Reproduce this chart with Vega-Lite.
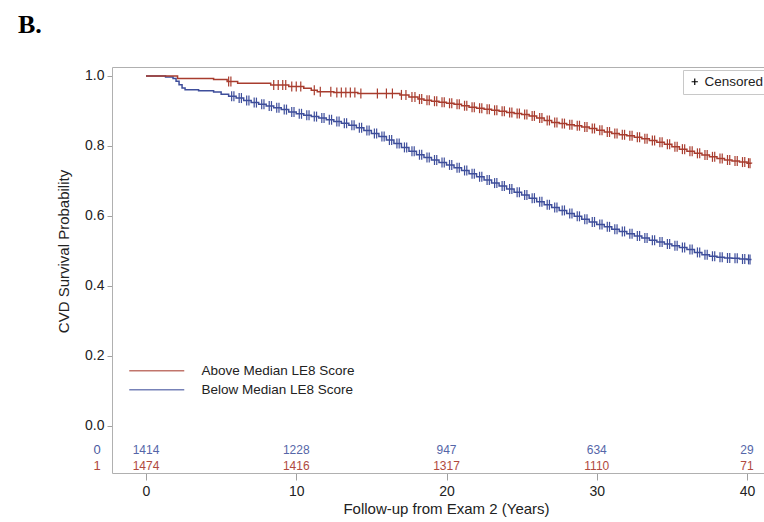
{
  "$schema": "https://vega.github.io/schema/vega-lite/v6.json",
  "width": 652,
  "height": 406,
  "autosize": "none",
  "padding": {"left": 112, "top": 67, "right": 0, "bottom": 49},
  "background": "white",
  "title": {"text": "B.", "anchor": "start", "frame": "group", "font": "Liberation Serif", "fontSize": 26, "fontWeight": "bold", "color": "#000", "dx": -94, "offset": 8, "baseline": "alphabetic"},
  "config": {
    "view": {"stroke": null},
    "font": "Liberation Sans",
    "axis": {"domainColor": "#b0b0b0", "tickColor": "#a0a0a0", "labelColor": "#222", "titleColor": "#222", "labelFont": "Liberation Sans", "titleFont": "Liberation Sans", "titleFontWeight": "normal", "grid": false}
  },
  "datasets": {
    "km": [
      {"g":"B","t":0,"s":1},{"g":"B","t":1.3,"s":0.997},{"g":"B","t":1.8,"s":0.993},{"g":"B","t":2.0,"s":0.985},{"g":"B","t":2.2,"s":0.975},{"g":"B","t":2.4,"s":0.966},{"g":"B","t":2.6,"s":0.961},{"g":"B","t":3.5,"s":0.958},{"g":"B","t":4.5,"s":0.954},{"g":"B","t":5.0,"s":0.948},
      {"g":"B","t":5.5,"s":0.942},{"g":"B","t":6.0,"s":0.937},{"g":"B","t":6.5,"s":0.930},{"g":"B","t":7.0,"s":0.924},{"g":"B","t":7.5,"s":0.919},{"g":"B","t":8.0,"s":0.914},{"g":"B","t":8.5,"s":0.909},{"g":"B","t":9.0,"s":0.904},{"g":"B","t":9.5,"s":0.897},{"g":"B","t":10.0,"s":0.892},
      {"g":"B","t":10.5,"s":0.888},{"g":"B","t":11.0,"s":0.884},{"g":"B","t":11.5,"s":0.880},{"g":"B","t":12.0,"s":0.875},{"g":"B","t":12.5,"s":0.870},{"g":"B","t":13.0,"s":0.865},{"g":"B","t":13.5,"s":0.859},{"g":"B","t":14.0,"s":0.852},{"g":"B","t":14.5,"s":0.844},{"g":"B","t":15.0,"s":0.836},
      {"g":"B","t":15.5,"s":0.827},{"g":"B","t":16.0,"s":0.817},{"g":"B","t":16.5,"s":0.807},{"g":"B","t":17.0,"s":0.796},{"g":"B","t":17.5,"s":0.785},{"g":"B","t":18.0,"s":0.775},{"g":"B","t":18.5,"s":0.767},{"g":"B","t":19.0,"s":0.760},{"g":"B","t":19.5,"s":0.753},{"g":"B","t":20.0,"s":0.746},
      {"g":"B","t":20.5,"s":0.738},{"g":"B","t":21.0,"s":0.730},{"g":"B","t":21.5,"s":0.721},{"g":"B","t":22.0,"s":0.712},{"g":"B","t":22.5,"s":0.703},{"g":"B","t":23.0,"s":0.694},{"g":"B","t":23.5,"s":0.686},{"g":"B","t":24.0,"s":0.677},{"g":"B","t":24.5,"s":0.668},{"g":"B","t":25.0,"s":0.660},
      {"g":"B","t":25.5,"s":0.651},{"g":"B","t":26.0,"s":0.641},{"g":"B","t":26.5,"s":0.632},{"g":"B","t":27.0,"s":0.624},{"g":"B","t":27.5,"s":0.616},{"g":"B","t":28.0,"s":0.607},{"g":"B","t":28.5,"s":0.599},{"g":"B","t":29.0,"s":0.591},{"g":"B","t":29.5,"s":0.583},{"g":"B","t":30.0,"s":0.576},
      {"g":"B","t":30.5,"s":0.569},{"g":"B","t":31.0,"s":0.562},{"g":"B","t":31.5,"s":0.556},{"g":"B","t":32.0,"s":0.549},{"g":"B","t":32.5,"s":0.543},{"g":"B","t":33.0,"s":0.537},{"g":"B","t":33.5,"s":0.531},{"g":"B","t":34.0,"s":0.526},{"g":"B","t":34.5,"s":0.520},{"g":"B","t":35.0,"s":0.515},
      {"g":"B","t":35.5,"s":0.510},{"g":"B","t":36.0,"s":0.504},{"g":"B","t":36.5,"s":0.496},{"g":"B","t":37.0,"s":0.489},{"g":"B","t":37.5,"s":0.485},{"g":"B","t":38.0,"s":0.482},{"g":"B","t":38.5,"s":0.480},{"g":"B","t":39.0,"s":0.479},{"g":"B","t":39.5,"s":0.477},{"g":"B","t":40.0,"s":0.476},{"g":"B","t":40.3,"s":0.476},
      {"g":"A","t":0,"s":1},{"g":"A","t":2.1,"s":0.993},{"g":"A","t":4.5,"s":0.990},{"g":"A","t":5.4,"s":0.984},{"g":"A","t":6.1,"s":0.979},{"g":"A","t":8.3,"s":0.974},{"g":"A","t":9.5,"s":0.970},{"g":"A","t":10.5,"s":0.965},{"g":"A","t":11.0,"s":0.959},{"g":"A","t":11.4,"s":0.955},
      {"g":"A","t":12.5,"s":0.953},{"g":"A","t":14.1,"s":0.950},{"g":"A","t":16.9,"s":0.946},{"g":"A","t":17.5,"s":0.940},{"g":"A","t":18.1,"s":0.934},{"g":"A","t":18.5,"s":0.931},{"g":"A","t":19.0,"s":0.928},{"g":"A","t":19.5,"s":0.925},{"g":"A","t":20.0,"s":0.922},{"g":"A","t":20.5,"s":0.919},
      {"g":"A","t":21.0,"s":0.915},{"g":"A","t":21.5,"s":0.911},{"g":"A","t":22.0,"s":0.908},{"g":"A","t":22.5,"s":0.905},{"g":"A","t":23.0,"s":0.902},{"g":"A","t":23.5,"s":0.899},{"g":"A","t":24.0,"s":0.896},{"g":"A","t":24.5,"s":0.893},{"g":"A","t":25.0,"s":0.890},{"g":"A","t":25.5,"s":0.886},
      {"g":"A","t":26.0,"s":0.880},{"g":"A","t":26.5,"s":0.873},{"g":"A","t":27.0,"s":0.867},{"g":"A","t":27.5,"s":0.864},{"g":"A","t":28.0,"s":0.861},{"g":"A","t":28.5,"s":0.858},{"g":"A","t":29.0,"s":0.854},{"g":"A","t":29.5,"s":0.850},{"g":"A","t":30.0,"s":0.845},{"g":"A","t":30.5,"s":0.840},
      {"g":"A","t":31.0,"s":0.836},{"g":"A","t":31.5,"s":0.832},{"g":"A","t":32.0,"s":0.829},{"g":"A","t":32.5,"s":0.825},{"g":"A","t":33.0,"s":0.821},{"g":"A","t":33.5,"s":0.816},{"g":"A","t":34.0,"s":0.811},{"g":"A","t":34.5,"s":0.805},{"g":"A","t":35.0,"s":0.798},{"g":"A","t":35.5,"s":0.791},
      {"g":"A","t":36.0,"s":0.785},{"g":"A","t":36.5,"s":0.779},{"g":"A","t":37.0,"s":0.774},{"g":"A","t":37.5,"s":0.769},{"g":"A","t":38.0,"s":0.764},{"g":"A","t":38.5,"s":0.760},{"g":"A","t":39.0,"s":0.757},{"g":"A","t":39.5,"s":0.754},{"g":"A","t":40.0,"s":0.751},{"g":"A","t":40.3,"s":0.750}
    ],
    "cens": [
      {"g":"B","t":5.7,"s":0.942},{"g":"B","t":5.85,"s":0.942},{"g":"B","t":6.2,"s":0.937},{"g":"B","t":6.35,"s":0.937},{"g":"B","t":6.7,"s":0.930},{"g":"B","t":6.85,"s":0.930},{"g":"B","t":7.2,"s":0.924},{"g":"B","t":7.35,"s":0.924},{"g":"B","t":7.7,"s":0.919},{"g":"B","t":7.85,"s":0.919},
      {"g":"B","t":8.2,"s":0.914},{"g":"B","t":8.35,"s":0.914},{"g":"B","t":8.7,"s":0.909},{"g":"B","t":8.85,"s":0.909},{"g":"B","t":9.2,"s":0.904},{"g":"B","t":9.35,"s":0.904},{"g":"B","t":9.7,"s":0.897},{"g":"B","t":9.85,"s":0.897},{"g":"B","t":10.2,"s":0.892},{"g":"B","t":10.35,"s":0.892},
      {"g":"B","t":10.7,"s":0.888},{"g":"B","t":10.85,"s":0.888},{"g":"B","t":11.2,"s":0.884},{"g":"B","t":11.35,"s":0.884},{"g":"B","t":11.7,"s":0.880},{"g":"B","t":11.85,"s":0.880},{"g":"B","t":12.2,"s":0.875},{"g":"B","t":12.35,"s":0.875},{"g":"B","t":12.7,"s":0.870},{"g":"B","t":12.85,"s":0.870},
      {"g":"B","t":13.2,"s":0.865},{"g":"B","t":13.35,"s":0.865},{"g":"B","t":13.7,"s":0.859},{"g":"B","t":13.85,"s":0.859},{"g":"B","t":14.2,"s":0.852},{"g":"B","t":14.35,"s":0.852},{"g":"B","t":14.7,"s":0.844},{"g":"B","t":14.85,"s":0.844},{"g":"B","t":15.2,"s":0.836},{"g":"B","t":15.35,"s":0.836},
      {"g":"B","t":15.7,"s":0.827},{"g":"B","t":15.85,"s":0.827},{"g":"B","t":16.2,"s":0.817},{"g":"B","t":16.35,"s":0.817},{"g":"B","t":16.7,"s":0.807},{"g":"B","t":16.85,"s":0.807},{"g":"B","t":17.2,"s":0.796},{"g":"B","t":17.35,"s":0.796},{"g":"B","t":17.7,"s":0.785},{"g":"B","t":17.85,"s":0.785},
      {"g":"B","t":18.2,"s":0.775},{"g":"B","t":18.35,"s":0.775},{"g":"B","t":18.7,"s":0.767},{"g":"B","t":18.85,"s":0.767},{"g":"B","t":19.2,"s":0.760},{"g":"B","t":19.35,"s":0.760},{"g":"B","t":19.7,"s":0.753},{"g":"B","t":19.85,"s":0.753},{"g":"B","t":20.2,"s":0.746},{"g":"B","t":20.35,"s":0.746},
      {"g":"B","t":20.7,"s":0.738},{"g":"B","t":20.85,"s":0.738},{"g":"B","t":21.2,"s":0.730},{"g":"B","t":21.35,"s":0.730},{"g":"B","t":21.7,"s":0.721},{"g":"B","t":21.85,"s":0.721},{"g":"B","t":22.2,"s":0.712},{"g":"B","t":22.35,"s":0.712},{"g":"B","t":22.7,"s":0.703},{"g":"B","t":22.85,"s":0.703},
      {"g":"B","t":23.2,"s":0.694},{"g":"B","t":23.35,"s":0.694},{"g":"B","t":23.7,"s":0.686},{"g":"B","t":23.85,"s":0.686},{"g":"B","t":24.2,"s":0.677},{"g":"B","t":24.35,"s":0.677},{"g":"B","t":24.7,"s":0.668},{"g":"B","t":24.85,"s":0.668},{"g":"B","t":25.2,"s":0.660},{"g":"B","t":25.35,"s":0.660},
      {"g":"B","t":25.7,"s":0.651},{"g":"B","t":25.85,"s":0.651},{"g":"B","t":26.2,"s":0.641},{"g":"B","t":26.35,"s":0.641},{"g":"B","t":26.7,"s":0.632},{"g":"B","t":26.85,"s":0.632},{"g":"B","t":27.2,"s":0.624},{"g":"B","t":27.35,"s":0.624},{"g":"B","t":27.7,"s":0.616},{"g":"B","t":27.85,"s":0.616},
      {"g":"B","t":28.2,"s":0.607},{"g":"B","t":28.35,"s":0.607},{"g":"B","t":28.7,"s":0.599},{"g":"B","t":28.85,"s":0.599},{"g":"B","t":29.2,"s":0.591},{"g":"B","t":29.35,"s":0.591},{"g":"B","t":29.7,"s":0.583},{"g":"B","t":29.85,"s":0.583},{"g":"B","t":30.2,"s":0.576},{"g":"B","t":30.35,"s":0.576},
      {"g":"B","t":30.7,"s":0.569},{"g":"B","t":30.85,"s":0.569},{"g":"B","t":31.2,"s":0.562},{"g":"B","t":31.35,"s":0.562},{"g":"B","t":31.7,"s":0.556},{"g":"B","t":31.85,"s":0.556},{"g":"B","t":32.2,"s":0.549},{"g":"B","t":32.35,"s":0.549},{"g":"B","t":32.7,"s":0.543},{"g":"B","t":32.85,"s":0.543},
      {"g":"B","t":33.2,"s":0.537},{"g":"B","t":33.35,"s":0.537},{"g":"B","t":33.7,"s":0.531},{"g":"B","t":33.85,"s":0.531},{"g":"B","t":34.2,"s":0.526},{"g":"B","t":34.35,"s":0.526},{"g":"B","t":34.7,"s":0.520},{"g":"B","t":34.85,"s":0.520},{"g":"B","t":35.2,"s":0.515},{"g":"B","t":35.35,"s":0.515},
      {"g":"B","t":35.7,"s":0.510},{"g":"B","t":35.85,"s":0.510},{"g":"B","t":36.2,"s":0.504},{"g":"B","t":36.35,"s":0.504},{"g":"B","t":36.7,"s":0.496},{"g":"B","t":36.85,"s":0.496},{"g":"B","t":37.2,"s":0.489},{"g":"B","t":37.35,"s":0.489},{"g":"B","t":37.7,"s":0.485},{"g":"B","t":37.85,"s":0.485},
      {"g":"B","t":38.2,"s":0.482},{"g":"B","t":38.35,"s":0.482},{"g":"B","t":38.7,"s":0.480},{"g":"B","t":38.85,"s":0.480},{"g":"B","t":39.2,"s":0.479},{"g":"B","t":39.35,"s":0.479},{"g":"B","t":39.7,"s":0.477},{"g":"B","t":39.85,"s":0.477},{"g":"B","t":40.1,"s":0.476},{"g":"B","t":40.2,"s":0.476},
      {"g":"A","t":5.5,"s":0.984},{"g":"A","t":5.65,"s":0.984},{"g":"A","t":8.5,"s":0.974},{"g":"A","t":8.8,"s":0.974},{"g":"A","t":9.1,"s":0.974},{"g":"A","t":9.3,"s":0.974},{"g":"A","t":9.7,"s":0.970},{"g":"A","t":10.0,"s":0.970},{"g":"A","t":10.3,"s":0.970},{"g":"A","t":11.2,"s":0.959},
      {"g":"A","t":11.6,"s":0.955},{"g":"A","t":12.3,"s":0.955},{"g":"A","t":12.7,"s":0.953},{"g":"A","t":13.0,"s":0.953},{"g":"A","t":13.3,"s":0.953},{"g":"A","t":13.6,"s":0.953},{"g":"A","t":13.9,"s":0.953},{"g":"A","t":14.3,"s":0.950},{"g":"A","t":15.4,"s":0.950},{"g":"A","t":16.0,"s":0.950},
      {"g":"A","t":16.4,"s":0.950},{"g":"A","t":17.0,"s":0.946},{"g":"A","t":17.3,"s":0.946},{"g":"A","t":17.7,"s":0.940},{"g":"A","t":17.9,"s":0.940},{"g":"A","t":18.2,"s":0.934},{"g":"A","t":18.35,"s":0.934},{"g":"A","t":18.7,"s":0.931},{"g":"A","t":18.85,"s":0.931},{"g":"A","t":19.2,"s":0.928},
      {"g":"A","t":19.35,"s":0.928},{"g":"A","t":19.7,"s":0.925},{"g":"A","t":19.85,"s":0.925},{"g":"A","t":20.2,"s":0.922},{"g":"A","t":20.35,"s":0.922},{"g":"A","t":20.7,"s":0.919},{"g":"A","t":20.85,"s":0.919},{"g":"A","t":21.2,"s":0.915},{"g":"A","t":21.35,"s":0.915},{"g":"A","t":21.7,"s":0.911},
      {"g":"A","t":21.85,"s":0.911},{"g":"A","t":22.2,"s":0.908},{"g":"A","t":22.35,"s":0.908},{"g":"A","t":22.7,"s":0.905},{"g":"A","t":22.85,"s":0.905},{"g":"A","t":23.2,"s":0.902},{"g":"A","t":23.35,"s":0.902},{"g":"A","t":23.7,"s":0.899},{"g":"A","t":23.85,"s":0.899},{"g":"A","t":24.2,"s":0.896},
      {"g":"A","t":24.35,"s":0.896},{"g":"A","t":24.7,"s":0.893},{"g":"A","t":24.85,"s":0.893},{"g":"A","t":25.2,"s":0.890},{"g":"A","t":25.35,"s":0.890},{"g":"A","t":25.7,"s":0.886},{"g":"A","t":25.85,"s":0.886},{"g":"A","t":26.2,"s":0.880},{"g":"A","t":26.35,"s":0.880},{"g":"A","t":26.7,"s":0.873},
      {"g":"A","t":26.85,"s":0.873},{"g":"A","t":27.2,"s":0.867},{"g":"A","t":27.35,"s":0.867},{"g":"A","t":27.7,"s":0.864},{"g":"A","t":27.85,"s":0.864},{"g":"A","t":28.2,"s":0.861},{"g":"A","t":28.35,"s":0.861},{"g":"A","t":28.7,"s":0.858},{"g":"A","t":28.85,"s":0.858},{"g":"A","t":29.2,"s":0.854},
      {"g":"A","t":29.35,"s":0.854},{"g":"A","t":29.7,"s":0.850},{"g":"A","t":29.85,"s":0.850},{"g":"A","t":30.2,"s":0.845},{"g":"A","t":30.35,"s":0.845},{"g":"A","t":30.7,"s":0.840},{"g":"A","t":30.85,"s":0.840},{"g":"A","t":31.2,"s":0.836},{"g":"A","t":31.35,"s":0.836},{"g":"A","t":31.7,"s":0.832},
      {"g":"A","t":31.85,"s":0.832},{"g":"A","t":32.2,"s":0.829},{"g":"A","t":32.35,"s":0.829},{"g":"A","t":32.7,"s":0.825},{"g":"A","t":32.85,"s":0.825},{"g":"A","t":33.2,"s":0.821},{"g":"A","t":33.35,"s":0.821},{"g":"A","t":33.7,"s":0.816},{"g":"A","t":33.85,"s":0.816},{"g":"A","t":34.2,"s":0.811},
      {"g":"A","t":34.35,"s":0.811},{"g":"A","t":34.7,"s":0.805},{"g":"A","t":34.85,"s":0.805},{"g":"A","t":35.2,"s":0.798},{"g":"A","t":35.35,"s":0.798},{"g":"A","t":35.7,"s":0.791},{"g":"A","t":35.85,"s":0.791},{"g":"A","t":36.2,"s":0.785},{"g":"A","t":36.35,"s":0.785},{"g":"A","t":36.7,"s":0.779},
      {"g":"A","t":36.85,"s":0.779},{"g":"A","t":37.2,"s":0.774},{"g":"A","t":37.35,"s":0.774},{"g":"A","t":37.7,"s":0.769},{"g":"A","t":37.85,"s":0.769},{"g":"A","t":38.2,"s":0.764},{"g":"A","t":38.35,"s":0.764},{"g":"A","t":38.7,"s":0.760},{"g":"A","t":38.85,"s":0.760},{"g":"A","t":39.2,"s":0.757},
      {"g":"A","t":39.35,"s":0.757},{"g":"A","t":39.7,"s":0.754},{"g":"A","t":39.85,"s":0.754},{"g":"A","t":40.1,"s":0.751},{"g":"A","t":40.2,"s":0.751}
    ],
    "risk": [
      {"g":"B","t":0,"n":1414},{"g":"B","t":10,"n":1228},{"g":"B","t":20,"n":947},{"g":"B","t":30,"n":634},{"g":"B","t":40,"n":29},
      {"g":"A","t":0,"n":1474},{"g":"A","t":10,"n":1416},{"g":"A","t":20,"n":1317},{"g":"A","t":30,"n":1110},{"g":"A","t":40,"n":71}
    ],
    "rowlab": [{"g":"B","lab":"0"},{"g":"A","lab":"1"}]
  },
  "resolve": {"axis": {"x": "independent"}},
  "layer": [
    {
      "data": {"name": "km"},
      "mark": {"type": "line", "interpolate": "step-after", "strokeWidth": 1.5},
      "encoding": {
        "x": {"field": "t", "type": "quantitative", "scale": {"domain": [-2.263, 41.13], "nice": false, "zero": false},
              "axis": {"orient": "bottom", "values": [0,10,20,30,40], "tickSize": 7, "labelFontSize": 14, "labelPadding": 4, "title": "Follow-up from Exam 2 (Years)", "titleFontSize": 15, "titleX": 334, "titleY": 35, "titleBaseline": "middle", "titleAlign": "center"}},
        "y": {"field": "s", "type": "quantitative", "scale": {"domain": [-0.1343, 1.0257], "nice": false, "zero": false},
              "axis": {"values": [0,0.2,0.4,0.6,0.8,1], "format": ".1f", "tickSize": 5, "labelFontSize": 14, "labelPadding": 3, "title": "CVD Survival Probability", "titleFontSize": 15, "titleX": -49, "titleY": 184, "titleBaseline": "middle", "titleAlign": "center"}},
        "color": {"field": "g", "type": "nominal", "scale": {"domain": ["A","B"], "range": ["#a83c2e","#3e4e9b"]},
                  "legend": {"orient": "none", "legendX": 38, "legendY": 297, "title": null, "symbolType": "M-5,0H5", "symbolSize": 121, "symbolStrokeWidth": 1.6, "labelFontSize": 13.5, "labelColor": "#222", "labelOffset": 38, "rowPadding": 4, "labelLimit": 300, "labelExpr": "datum.label == 'A' ? 'Above Median LE8 Score' : 'Below Median LE8 Score'"}}
      }
    },
    {
      "data": {"name": "cens"},
      "mark": {"type": "tick", "orient": "vertical", "thickness": 1.2, "size": 10},
      "encoding": {
        "x": {"field": "t", "type": "quantitative", "axis": {"orient": "top", "labels": false, "ticks": false, "title": null, "domain": true}},
        "y": {"field": "s", "type": "quantitative"},
        "color": {"field": "g", "type": "nominal"},
        "opacity": {"datum": "Censored", "type": "nominal", "scale": {"range": [1]},
                    "legend": {"orient": "none", "legendX": 571, "legendY": 3, "title": null, "strokeColor": "#c8c8c8", "fillColor": "white", "padding": 5, "cornerRadius": 0, "symbolType": "M-1,0H1M0,-1V1", "symbolSize": 40, "symbolStrokeColor": "#000", "symbolFillColor": "transparent", "symbolStrokeWidth": 1.2, "labelFontSize": 13.5, "labelColor": "#222", "labelOffset": 3}}
      }
    },
    {
      "data": {"name": "risk"},
      "transform": [{"filter": "datum.g == 'B'"}],
      "mark": {"type": "text", "fontSize": 12, "color": "#5566a8", "baseline": "middle"},
      "encoding": {
        "x": {"field": "t", "type": "quantitative", "axis": null},
        "y": {"datum": -0.069},
        "text": {"field": "n", "type": "nominal"}
      }
    },
    {
      "data": {"name": "risk"},
      "transform": [{"filter": "datum.g == 'A'"}],
      "mark": {"type": "text", "fontSize": 12, "color": "#b04a3e", "baseline": "middle"},
      "encoding": {
        "x": {"field": "t", "type": "quantitative", "axis": null},
        "y": {"datum": -0.114},
        "text": {"field": "n", "type": "nominal"}
      }
    },
    {
      "data": {"name": "rowlab"},
      "transform": [{"filter": "datum.g == 'B'"}],
      "mark": {"type": "text", "fontSize": 13, "color": "#4a5aa0", "baseline": "middle"},
      "encoding": {
        "x": {"datum": -3.26, "axis": null},
        "y": {"datum": -0.069},
        "text": {"field": "lab", "type": "nominal"}
      }
    },
    {
      "data": {"name": "rowlab"},
      "transform": [{"filter": "datum.g == 'A'"}],
      "mark": {"type": "text", "fontSize": 13, "color": "#b04a3e", "baseline": "middle"},
      "encoding": {
        "x": {"datum": -3.26, "axis": null},
        "y": {"datum": -0.114},
        "text": {"field": "lab", "type": "nominal"}
      }
    }
  ]
}
